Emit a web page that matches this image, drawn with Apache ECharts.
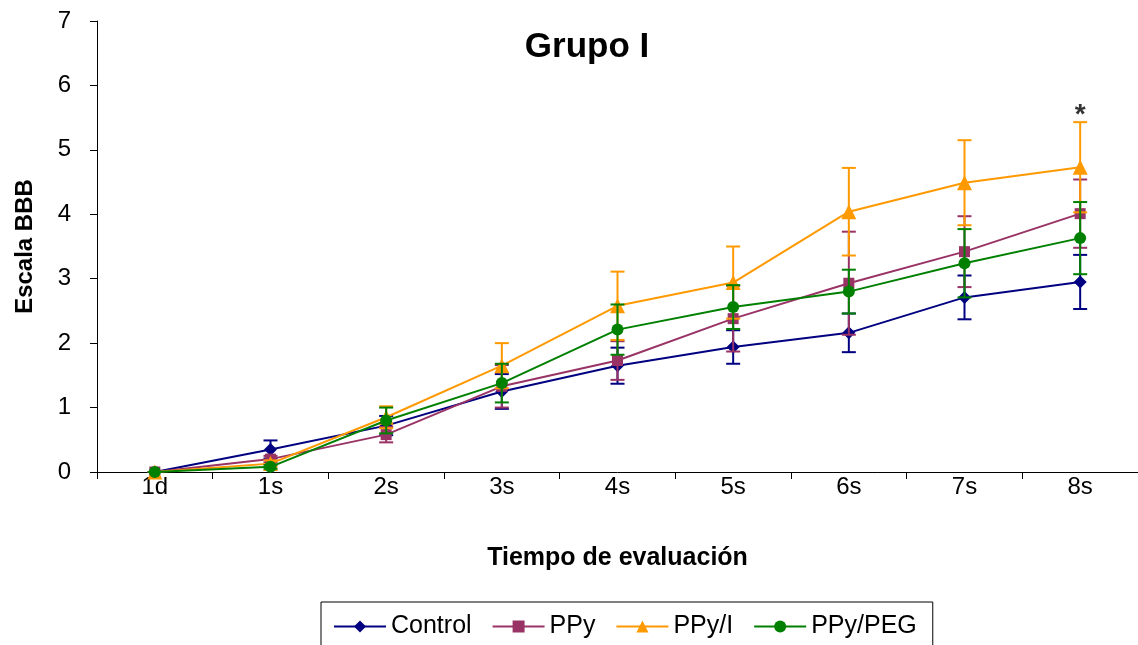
<!DOCTYPE html>
<html><head><meta charset="utf-8">
<script src="https://cdn.jsdelivr.net/npm/echarts@6/dist/echarts.min.js"></script>
<style>html,body{margin:0;padding:0;background:#fff}#c{width:1138px;height:645px}</style>
</head><body><div id="c"></div>
<script>
const categories = ['1d','1s','2s','3s','4s','5s','6s','7s','8s'];
const seriesNames = ['Control','PPy','PPy/I','PPy/PEG'];
const controlMean = [0, 0.35, 0.72, 1.25, 1.65, 1.94, 2.16, 2.71, 2.95];
const controlErr  = [0, 0.14, 0.15, 0.27, 0.28, 0.26, 0.30, 0.34, 0.42];
const ppyMean     = [0, 0.20, 0.58, 1.33, 1.73, 2.38, 2.93, 3.42, 4.01];
const ppyErr      = [0, 0.05, 0.12, 0.33, 0.30, 0.51, 0.80, 0.55, 0.53];
const ppyIMean    = [0, 0.13, 0.85, 1.65, 2.58, 2.94, 4.04, 4.49, 4.73];
const ppyIErr     = [0, 0.05, 0.17, 0.35, 0.53, 0.56, 0.68, 0.66, 0.70];
const ppyPegMean  = [0, 0.08, 0.80, 1.38, 2.21, 2.56, 2.80, 3.24, 3.63];
const ppyPegErr   = [0, 0.03, 0.20, 0.30, 0.39, 0.34, 0.34, 0.53, 0.56];
const yTicks = [0,1,2,3,4,5,6,7];
const annotations = [{cat: '8s', value: 5.45, text: '*'}];

const FONT = 'Liberation Sans, Arial, sans-serif';
const colors = ['#000080','#993366','#FF9900','#008000'];
const symbols = ['diamond','rect','triangle','circle'];
const symbolSizes = [13, 11, 15, 12];
const means = [controlMean, ppyMean, ppyIMean, ppyPegMean];
const errs = [controlErr, ppyErr, ppyIErr, ppyPegErr];

function errRender(color){
  return function(params, api){
    const i = api.value(0);
    const lo = api.coord([i, api.value(1)]);
    const hi = api.coord([i, api.value(2)]);
    const w = 7;
    const st = {stroke: color, lineWidth: 2};
    return {type:'group', children:[
      {type:'line', shape:{x1:lo[0], y1:lo[1], x2:hi[0], y2:hi[1]}, style:st},
      {type:'line', shape:{x1:lo[0]-w, y1:lo[1], x2:lo[0]+w, y2:lo[1]}, style:st},
      {type:'line', shape:{x1:hi[0]-w, y1:hi[1], x2:hi[0]+w, y2:hi[1]}, style:st}
    ]};
  };
}

const series = [];
seriesNames.forEach((name, k) => {
  series.push({
    type:'custom', name: name + '_err', renderItem: errRender(colors[k]),
    data: means[k].map((m, i) => [i, m - errs[k][i], m + errs[k][i]]),
    encode: {x:0, y:[1,2]}, z: 2 + k*2, silent: true, clip: false
  });
  series.push({
    type:'line', name: name, data: means[k],
    symbol: symbols[k], symbolSize: symbolSizes[k], showAllSymbol: true,
    lineStyle: {color: colors[k], width: 2},
    itemStyle: {color: colors[k]},
    z: 3 + k*2, animation: false
  });
});
series.push({
  type:'scatter', name:'annot', symbolSize: 0,
  data: annotations.map(a => [a.cat, a.value]),
  label: {show:true, position:'top', distance: -8, formatter: (p) => annotations[p.dataIndex].text,
          color:'#000', fontSize: 28, fontWeight: 'bold', fontFamily: FONT},
  z: 20, silent: true
});

const chart = echarts.init(document.getElementById('c'), null, {renderer:'canvas'});
chart.setOption({
  animation: false,
  backgroundColor: '#fff',
  textStyle: {fontFamily: FONT},
  title: {text: 'Grupo I', left: 582, top: 25, textAlign: 'center',
          textStyle: {fontSize: 35, fontWeight: 'bold', color: '#000', fontFamily: FONT}},
  grid: {left: 97, top: 21, width: 1047, height: 451, containLabel: false},
  legend: {
    data: seriesNames,
    left: 321, top: 602, orient: 'horizontal',
    itemWidth: 52, itemHeight: 15, itemGap: 20,
    padding: [12, 16, 14, 12],
    borderColor: '#000', borderWidth: 1,
    textStyle: {fontSize: 25, color: '#000', fontFamily: FONT}
  },
  xAxis: {
    type: 'category', data: categories, boundaryGap: true,
    name: 'Tiempo de evaluación', nameLocation: 'middle', nameGap: 74,
    nameTextStyle: {fontSize: 25, fontWeight: 'bold', color: '#000', fontFamily: FONT},
    axisLine: {lineStyle: {color: '#000', width: 1}},
    axisTick: {show: true, inside: false, length: 7, alignWithLabel: false, lineStyle: {color:'#000'}},
    axisLabel: {fontSize: 24, color: '#000', margin: 3, fontFamily: FONT},
    splitLine: {show: false}
  },
  yAxis: {
    type: 'value', min: 0, max: 7, interval: 1,
    name: 'Escala BBB', nameLocation: 'middle', nameGap: 60, nameRotate: 90,
    nameTextStyle: {fontSize: 24, fontWeight: 'bold', color: '#000', fontFamily: FONT},
    axisLine: {show: true, lineStyle: {color: '#000', width: 1}},
    axisTick: {show: true, inside: false, length: 7, lineStyle: {color:'#000'}},
    axisLabel: {fontSize: 24, color: '#000', margin: 26, fontFamily: FONT, formatter: v => yTicks.includes(v) ? String(v) : ''},
    splitLine: {show: false}
  },
  series: series
});
</script></body></html>
